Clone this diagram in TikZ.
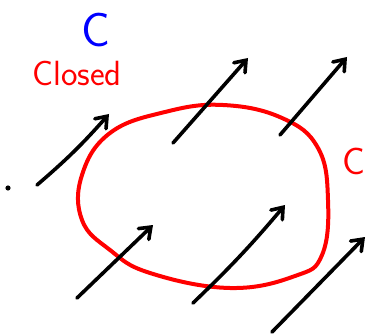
\documentclass[tikz,border=0pt]{standalone}
\usepackage{tikz}
\usetikzlibrary{arrows.meta}

\begin{document}
\begin{tikzpicture}[
        x=1pt, y=-1pt,
        field/.style={
            -{Straight Barb[length=10pt, width=15pt, line cap=round]},
            line width=3.6pt,
            line cap=round,
            black
        },
        curve/.style={
            line width=4pt,
            red
        },
        label/.style={
            inner sep=0pt,
            font=\sffamily
        }
    ]
        \useasboundingbox (0,0) rectangle (371,336);

        % Napisy
        \node[label, blue, font=\sffamily\fontsize{48}{48}\selectfont] (name) at (96,30) {C};
        \node[label, red, font=\sffamily\fontsize{35}{35}\selectfont] (closed) at (77,73) {Closed};
        \node[label, red, font=\sffamily\fontsize{38}{38}\selectfont] (curvename) at (354,161) {C};

        % Punkt
        \fill (8,188) circle (2.6pt);

        % Krzywa zamknieta
        \draw[curve] plot[smooth cycle, tension=0.7] coordinates {
            (223,105) (282,118) (318,148) (328,200) (322,255)
            (295,276) (230,288) (150,273) (110,250) (82,220)
            (82,175) (110,133) (165,112)};

        % Strzalki pola
        \coordinate (t1) at (37,185);  \coordinate (h1) at (109,114);
        \coordinate (t2) at (173,143); \coordinate (h2) at (248,58);
        \coordinate (t3) at (280,135); \coordinate (h3) at (347,57);
        \coordinate (t4) at (77,298);  \coordinate (h4) at (153,225);
        \coordinate (t5) at (193,303); \coordinate (h5) at (285,205);
        \coordinate (t6) at (272,332); \coordinate (h6) at (365,237);

        \draw[field] (t1) to[bend right=4] (h1);
        \draw[field] (t2) -- (h2);
        \draw[field] (t3) -- (h3);
        \draw[field] (t4) -- (h4);
        \draw[field] (t5) to[bend right=3] (h5);
        \draw[field] (t6) -- (h6);

    \end{tikzpicture}
\end{document}
